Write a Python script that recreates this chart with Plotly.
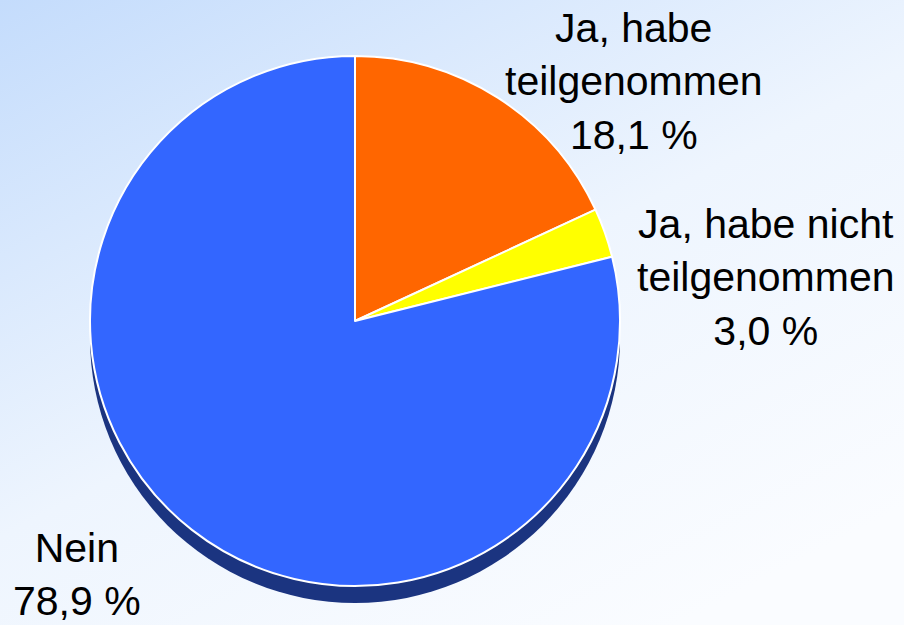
import base64
import plotly.graph_objects as go

# Data
categories = ["Ja, habe teilgenommen", "Ja, habe nicht teilgenommen", "Nein"]
values = [18.1, 3.0, 78.9]
label_lines = [["Ja, habe", "teilgenommen", "18,1 %"],
               ["Ja, habe nicht", "teilgenommen", "3,0 %"],
               ["Nein", "78,9 %"]]
colors = ["#FF6600", "#FFFF00", "#3366FF"]
shadow_color = "#1B3480"

W, H = 904, 625
cx, cy, r = 355, 321, 265
depth = 17

def dom(cx, cy, r):
    return dict(x=[(cx - r) / W, (cx + r) / W],
                y=[(H - cy - r) / H, (H - cy + r) / H])

svg = f'''<svg xmlns="http://www.w3.org/2000/svg" width="{W}" height="{H}" preserveAspectRatio="none">
<defs><linearGradient id="g" x1="0" y1="0" x2="0.75" y2="1">
<stop offset="0" stop-color="#C4DCFC"/>
<stop offset="0.55" stop-color="#EEF5FE"/>
<stop offset="1" stop-color="#FAFCFF"/>
</linearGradient></defs>
<rect width="{W}" height="{H}" fill="url(#g)"/></svg>'''
bg_src = "data:image/svg+xml;base64," + base64.b64encode(svg.encode()).decode()

fig = go.Figure()
# 3D side (shadow)
fig.add_trace(go.Pie(values=[1], marker=dict(colors=[shadow_color], line=dict(width=0)),
                     textinfo="none", hoverinfo="skip", sort=False, showlegend=False,
                     domain=dom(cx, cy + depth, r)))
fig.add_trace(go.Pie(labels=categories, values=values, sort=False, direction="clockwise",
                     rotation=0, marker=dict(colors=colors, line=dict(color="white", width=2)),
                     textinfo="none", showlegend=False, domain=dom(cx, cy, r)))

label_pos = [(634, 82), (766, 277), (77, 574)]
for lines, (lx, ly) in zip(label_lines, label_pos):
    fig.add_annotation(text="<br>".join(lines), xref="paper", yref="paper",
                       x=lx / W, y=1 - ly / H, xanchor="center", yanchor="middle",
                       showarrow=False, align="center",
                       font=dict(family="Liberation Sans, Arial", size=41, color="black"))

fig.update_layout(width=W, height=H, margin=dict(l=0, r=0, t=0, b=0),
                  paper_bgcolor="white", plot_bgcolor="rgba(0,0,0,0)",
                  images=[dict(source=bg_src, xref="paper", yref="paper", x=0, y=1,
                               sizex=1, sizey=1, sizing="stretch", layer="below",
                               xanchor="left", yanchor="top")])
fig.write_html("out.html", config={"displayModeBar": False},
               post_script="document.body.style.margin='0';document.body.style.overflow='hidden';")
